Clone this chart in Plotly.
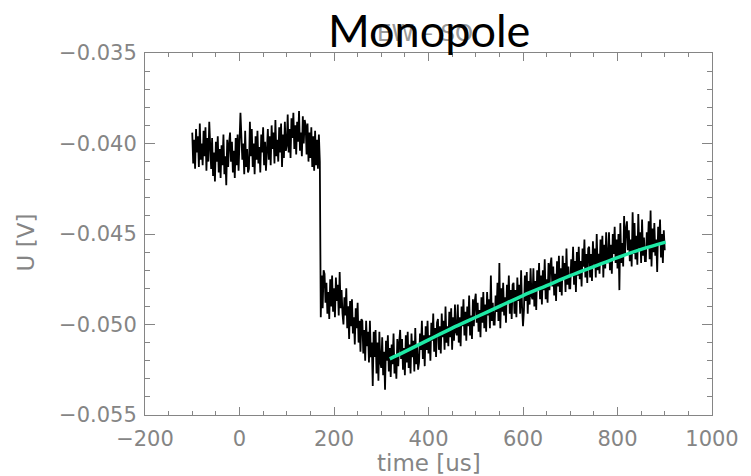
import numpy as np
import plotly.graph_objects as go

# Sampled probe voltage (mV), one sample every 2 us starting at -100 us
T_START_US = -100
T_STEP_US = 2
u_mv = [
    # -100 .. -62 us
    -39.4, -41.1, -39.8, -41.4, -39.2, -40.5, -39.6, -41.3, -38.9, -40.9,
    -40.0, -41.2, -39.3, -40.7, -39.1, -41.5, -39.7, -41.0, -38.8, -40.6,
    # -60 .. -22 us
    -41.4, -39.7, -41.8, -40.5, -42.1, -39.9, -41.0, -39.6, -41.6, -40.3,
    -41.9, -40.1, -41.2, -39.5, -41.7, -40.7, -42.3, -39.8, -41.3, -40.0,
    # -20 .. 18 us
    -39.4, -41.0, -39.9, -41.6, -40.4, -41.9, -39.7, -41.2, -39.5, -41.5,
    -40.2, -38.3, -39.6, -40.9, -40.0, -41.7, -39.3, -41.3, -40.3, -41.6,
    # 20 .. 58 us
    -41.4, -38.8, -40.7, -39.2, -41.3, -40.0, -41.7, -39.6, -40.9, -39.3,
    -41.1, -40.2, -41.6, -39.5, -40.5, -39.1, -41.2, -39.9, -41.5, -39.7,
    # 60 .. 98 us
    -39.2, -40.9, -39.6, -41.2, -39.0, -40.3, -39.4, -41.1, -38.7, -40.7,
    -39.8, -41.0, -39.1, -40.5, -38.9, -41.3, -39.5, -40.8, -38.8, -40.4,
    # 100 .. 138 us
    -40.1, -38.4, -40.5, -39.2, -40.8, -38.6, -39.7, -38.3, -40.3, -39.0,
    -40.6, -38.8, -39.9, -38.2, -40.4, -39.4, -40.7, -38.5, -40.0, -38.7,
    # 140 .. 178 us (step down at ~171 us)
    -39.0, -40.6, -38.9, -41.0, -39.4, -40.8, -39.1, -41.3, -39.6, -41.5,
    -39.3, -41.2, -39.8, -41.4, -39.5, -41.0, -49.6, -47.3, -49.1, -47.0,
    # 180 .. 218 us
    -47.2, -48.8, -47.7, -49.4, -48.2, -49.7, -47.5, -49.0, -47.3, -49.3,
    -48.0, -49.6, -47.4, -48.7, -47.8, -49.5, -47.1, -49.1, -48.1, -49.4,
    # 220 .. 258 us
    -50.0, -48.5, -49.5, -48.0, -50.2, -49.0, -50.8, -48.7, -50.1, -48.6,
    -50.5, -49.6, -51.1, -49.1, -50.2, -48.8, -51.0, -49.8, -51.5, -49.7,
    # 260 .. 298 us
    -49.8, -51.6, -50.3, -52.0, -49.8, -51.2, -50.4, -52.1, -49.8, -51.8,
    -51.0, -53.4, -50.4, -51.8, -50.3, -52.7, -51.0, -53.1, -50.4, -52.1,
    # 300 .. 338 us
    -52.4, -50.7, -52.8, -51.5, -53.6, -50.9, -52.0, -50.6, -52.6, -51.3,
    -52.9, -51.1, -52.2, -50.5, -52.7, -51.7, -53.0, -50.8, -52.3, -51.0,
    # 340 .. 378 us
    -50.3, -51.9, -50.8, -52.5, -51.3, -52.8, -50.6, -52.1, -50.4, -52.4,
    -51.1, -52.7, -50.5, -51.8, -50.9, -52.6, -50.2, -52.2, -51.2, -52.5,
    # 380 .. 418 us
    -52.1, -50.5, -51.4, -49.8, -51.9, -50.6, -52.3, -50.1, -51.4, -49.8,
    -51.6, -50.6, -52.0, -49.9, -50.9, -49.4, -51.5, -50.2, -51.8, -49.9,
    # 420 .. 458 us
    -49.7, -51.4, -50.1, -51.6, -49.4, -50.7, -49.8, -51.4, -49.0, -51.0,
    -50.1, -51.2, -49.3, -50.7, -49.1, -51.4, -49.6, -50.9, -48.9, -50.4,
    # 460 .. 498 us
    -50.6, -48.9, -51.0, -49.6, -51.2, -49.0, -50.1, -48.6, -50.6, -49.3,
    -50.9, -49.0, -50.1, -48.4, -50.6, -49.5, -50.8, -48.6, -50.1, -48.7,
    # 500 .. 538 us
    -48.3, -49.9, -48.8, -50.4, -49.2, -50.7, -48.5, -49.9, -48.2, -50.2,
    -48.9, -50.4, -48.2, -49.5, -48.6, -50.2, -47.3, -49.8, -48.8, -50.0,
    # 540 .. 578 us
    -50.0, -48.4, -49.3, -47.7, -49.8, -46.6, -50.2, -48.0, -49.3, -47.7,
    -49.5, -48.5, -49.9, -47.8, -48.8, -47.3, -49.4, -48.1, -49.7, -47.8,
    # 580 .. 618 us
    -47.7, -49.4, -48.1, -49.6, -47.4, -48.7, -47.8, -49.4, -47.0, -49.0,
    -50.1, -49.2, -47.3, -48.7, -47.1, -49.4, -47.6, -48.9, -46.9, -48.4,
    # 620 .. 658 us
    -48.6, -46.9, -49.0, -47.6, -49.2, -47.0, -48.1, -46.6, -48.6, -47.3,
    -48.9, -47.0, -48.1, -46.4, -48.6, -47.5, -48.8, -46.6, -48.1, -46.7,
    # 660 .. 698 us
    -46.3, -47.9, -46.8, -48.4, -47.2, -48.7, -46.5, -47.9, -46.2, -48.2,
    -46.9, -48.4, -46.2, -47.5, -46.6, -48.2, -45.8, -47.8, -46.8, -48.0,
    # 700 .. 738 us
    -48.0, -46.4, -47.3, -45.7, -47.8, -46.5, -48.2, -46.0, -47.3, -45.7,
    -47.5, -46.5, -47.9, -45.8, -46.8, -45.3, -47.4, -46.1, -47.7, -45.8,
    # 740 .. 778 us
    -45.7, -47.4, -46.1, -47.6, -45.4, -46.7, -45.8, -47.4, -45.0, -47.0,
    -46.1, -47.2, -45.3, -46.7, -45.1, -47.4, -45.6, -46.9, -44.9, -46.4,
    # 780 .. 818 us
    -46.6, -44.9, -47.0, -45.6, -47.2, -45.0, -46.1, -44.6, -46.6, -45.3,
    -46.9, -45.0, -48.1, -44.4, -46.6, -45.5, -46.8, -44.0, -46.1, -44.7,
    # 820 .. 858 us
    -44.3, -45.9, -44.8, -46.5, -45.3, -46.8, -43.8, -46.1, -44.4, -46.4,
    -45.1, -46.7, -43.9, -45.8, -44.9, -46.6, -44.2, -46.2, -45.2, -46.5,
    # 860 .. 898 us
    -46.5, -44.9, -45.8, -44.3, -46.4, -43.7, -46.8, -44.7, -46.0, -44.4,
    -46.2, -45.3, -47.1, -44.6, -45.6, -44.2, -46.3, -45.0, -46.6, -44.8,
    # 900 us
    -45.9,
]

# Recovery fit after the minimum
fit_t_us = [318, 350, 400, 450, 500, 550, 600, 650, 700, 750, 800, 850, 902]
fit_u_mv = [-51.9, -51.5, -50.85, -50.2, -49.6, -49.0, -48.4, -47.85,
            -47.3, -46.8, -46.3, -45.85, -45.45]

t_us = T_START_US + T_STEP_US * np.arange(len(u_mv))
u_v = np.array(u_mv) / 1000.0
fit_u_v = np.array(fit_u_mv) / 1000.0

GRAY = "#858585"
TICK_FONT = dict(family="DejaVu Sans", size=21, color=GRAY)
TITLE_FONT = dict(family="DejaVu Sans", size=23, color=GRAY)

fig = go.Figure()
fig.add_trace(go.Scatter(x=t_us, y=u_v, mode="lines",
                         line=dict(color="black", width=1.8), showlegend=False))
fig.add_trace(go.Scatter(x=fit_t_us, y=fit_u_v, mode="lines",
                         line=dict(color="#1ee8a5", width=3.5, shape="spline"),
                         showlegend=False))

W, H = 751, 476
L, R, T, B = 145, 719, 53, 415


def px(x):
    return (x - L) / (R - L)


def py(y):
    return (B - y) / (B - T)


fig.update_layout(
    width=W, height=H,
    margin=dict(l=L, r=W - R, t=T, b=H - B, pad=0),
    paper_bgcolor="white", plot_bgcolor="white",
    xaxis=dict(range=[-200, 1000], dtick=200, tick0=0,
               ticks="inside", ticklen=8, tickcolor=GRAY, tickwidth=1,
               showline=True, linecolor=GRAY, linewidth=1, mirror="ticks",
               showgrid=False, zeroline=False, tickfont=TICK_FONT,
               ticklabelstandoff=5,
               minor=dict(dtick=50, ticks="inside", ticklen=4,
                          tickcolor=GRAY, showgrid=False)),
    yaxis=dict(range=[-0.055, -0.035], dtick=0.005, tick0=-0.035,
               tickformat=".3f",
               ticks="inside", ticklen=10, tickcolor=GRAY, tickwidth=1,
               showline=True, linecolor=GRAY, linewidth=1, mirror="ticks",
               showgrid=False, zeroline=False, tickfont=TICK_FONT,
               ticklabelstandoff=3,
               minor=dict(dtick=0.001, ticks="inside", ticklen=5,
                          tickcolor=GRAY, showgrid=False)),
    annotations=[
        dict(text="time [us]", xref="paper", yref="paper",
             x=px(432), y=py(463), xanchor="center", yanchor="middle",
             showarrow=False, font=TITLE_FONT),
        dict(text="U [V]", xref="paper", yref="paper",
             x=px(25), y=py(242), xanchor="center", yanchor="middle",
             textangle=-90, showarrow=False, font=TITLE_FONT),
        dict(text="EW \u2013 SO", xref="paper", yref="paper",
             x=px(428), y=py(33), xanchor="center", yanchor="middle",
             showarrow=False,
             font=dict(family="DejaVu Sans", size=23, color="#9a9a9a")),
        dict(text="Monopole", xref="paper", yref="paper",
             x=px(433), y=py(30), xanchor="center", yanchor="middle",
             showarrow=False,
             font=dict(family="Lato", size=45, color="black")),
    ],
)

fig.write_html("out.html")
